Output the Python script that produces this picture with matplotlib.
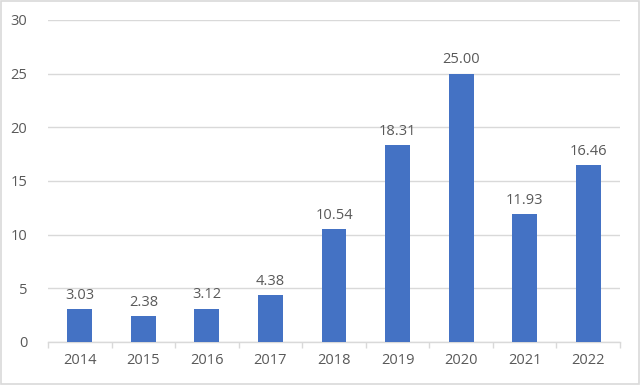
import numpy as np
import matplotlib.pyplot as plt
from matplotlib.patches import Rectangle

years = ['2014', '2015', '2016', '2017', '2018', '2019', '2020', '2021', '2022']
values = [3.03, 2.38, 3.12, 4.38, 10.54, 18.31, 25.00, 11.93, 16.46]
yticks = [0, 5, 10, 15, 20, 25, 30]

plt.rcParams['font.family'] = ['Open Sans', 'DejaVu Sans']
text_col = '#595959'
grid_col = '#D9D9D9'

fig = plt.figure(figsize=(6.4, 3.85), dpi=100)
ax = fig.add_axes([0.075, 0.1117, 0.89375, 0.8364])

x = np.arange(len(years))
bars = ax.bar(x, values, width=0.39, color='#4472C4', zorder=3)

# data labels above bars
for xi, v in zip(x, values):
    ax.annotate(f'{v:.2f}', (xi, v), xytext=(0, 4.5), textcoords='offset points',
                ha='center', va='bottom', fontsize=10.5, color=text_col)

ax.set_xlim(-0.5, len(years) - 0.5)
ax.set_ylim(0, 30)
ax.set_yticks(yticks)
ax.set_xticks(x)
ax.set_xticklabels(years)
ax.set_xticks(np.arange(-0.5, len(years)), minor=True)
ax.tick_params(axis='x', which='major', length=0, pad=8, labelsize=10.5, labelcolor=text_col)
ax.tick_params(axis='x', which='minor', length=4, color=grid_col, width=1)
ax.tick_params(axis='y', length=0, pad=15, labelsize=10.5, labelcolor=text_col)
ax.yaxis.grid(True, color=grid_col, linewidth=1, zorder=0)
ax.set_axisbelow(True)

for s in ['top', 'right', 'left']:
    ax.spines[s].set_visible(False)
ax.spines['bottom'].set_color(grid_col)
ax.spines['bottom'].set_linewidth(1)

# outer chart border
fig.patches.append(Rectangle((0.002, 0.003), 0.996, 0.994, transform=fig.transFigure,
                             fill=False, edgecolor='#D9D9D9', linewidth=1.2))

fig.savefig('out.png', dpi=100)
